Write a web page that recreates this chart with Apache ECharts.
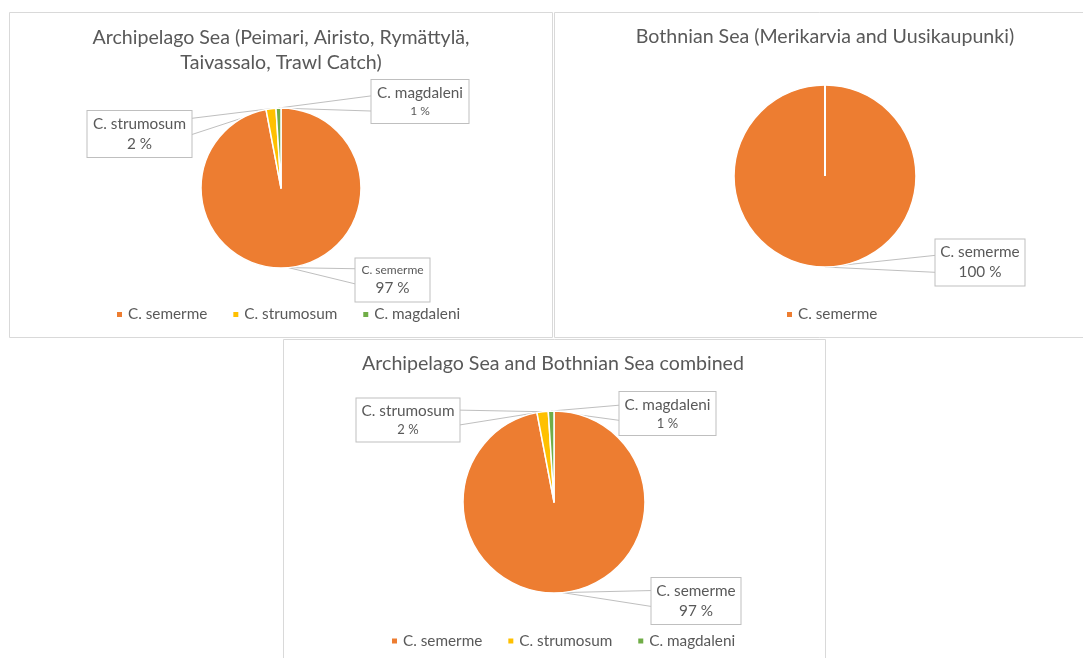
<!DOCTYPE html>
<html>
<head>
<meta charset="utf-8">
<script src="https://cdn.jsdelivr.net/npm/echarts@6/dist/echarts.min.js"></script>
<style>
  html, body { margin: 0; padding: 0; background: #ffffff; }
  #chart { width: 1083px; height: 658px; }
</style>
</head>
<body>
<div id="chart"></div>
<script>
// Species shares (%) of the whitefish catch, per sea area
const speciesAll = ['C. semerme', 'C. strumosum', 'C. magdaleni'];
const archipelagoShare = [97, 2, 1];
const bothnianSpecies = ['C. semerme'];
const bothnianShare = [100];
const combinedShare = [97, 2, 1];

const titleTexts = [
  'Archipelago Sea (Peimari, Airisto, Rymättylä,\nTaivassalo, Trawl Catch)',
  'Bothnian Sea (Merikarvia and Uusikaupunki)',
  'Archipelago Sea and Bothnian Sea combined'
];

const COLORS = { 'C. semerme': '#ED7D31', 'C. strumosum': '#FFC000', 'C. magdaleni': '#70AD47' };
const TEXT = '#595959';
const FRAME = '#D9D9D9';
const CALLOUT = '#BFBFBF';
const FONT = 'Lato, "Open Sans", sans-serif';

// Panel geometry: frame, pie placement, title, legend and callout boxes
const panels = [
  {
    names: speciesAll, values: archipelagoShare,
    frame: [9.5, 12.5, 543, 325], center: [281, 188], radius: 80,
    titleX: 281, titleY: 25.5, legend: [115, 307],
    boxes: [
      { c: [392.5, 280], w: 75, h: 42, n: 12, v: 15.3 },
      { c: [139.5, 134], w: 105, h: 45, n: 15.3, v: 15.3 },
      { c: [420, 101.5], w: 98, h: 42, n: 15.3, v: 12 }
    ]
  },
  {
    names: bothnianSpecies, values: bothnianShare,
    frame: [554.5, 12.5, 540, 325], center: [825, 176], radius: 91,
    titleX: 825, titleY: 24.5, legend: [785, 307],
    boxes: [
      { c: [980, 262.5], w: 90, h: 47, n: 15.3, v: 15.3 }
    ]
  },
  {
    names: speciesAll, values: combinedShare,
    frame: [283.5, 339.5, 542, 330], center: [554, 502], radius: 91,
    titleX: 553, titleY: 351.5, legend: [390, 633.5],
    boxes: [
      { c: [696, 601], w: 90, h: 44, n: 15.3, v: 15.3 },
      { c: [408, 420], w: 104, h: 41, n: 15.3, v: 13 },
      { c: [667.5, 413.5], w: 97, h: 42, n: 15.3, v: 13 }
    ]
  }
];

function clamp(v, lo, hi) { return Math.max(lo, Math.min(hi, v)); }

function richLine(size) {
  return { fontSize: size, lineHeight: size > 14 ? 20 : 17, color: TEXT, fontFamily: FONT, align: 'center' };
}

function buildSeries(p) {
  const data = p.names.map((name, i) => {
    const b = p.boxes[i];
    return {
      name: name,
      value: p.values[i],
      itemStyle: { color: COLORS[name] },
      label: {
        width: b.w - 7,
        overflow: 'none',
        rich: { n: richLine(b.n), v: richLine(b.v) }
      }
    };
  });
  return {
    type: 'pie',
    center: p.center,
    radius: p.radius,
    startAngle: 90,
    clockwise: true,
    avoidLabelOverlap: false,
    silent: true,
    itemStyle: { borderColor: '#ffffff', borderWidth: 1.5 },
    label: {
      show: true,
      position: 'outside',
      overflow: 'none',
      formatter: (q) => '{n|' + q.name + '}\n{v|' + q.value + ' %}',
      backgroundColor: '#ffffff',
      borderColor: CALLOUT,
      borderWidth: 1,
      padding: [3, 3],
      color: TEXT,
      fontFamily: FONT
    },
    labelLine: { show: true, length: 10, length2: 10, smooth: false, lineStyle: { color: CALLOUT, width: 1 } },
    // Callout boxes with a wedge pointer towards their slice
    labelLayout: (params) => {
      const b = p.boxes[params.dataIndex];
      const out = { x: b.c[0], y: b.c[1], align: 'center', verticalAlign: 'middle' };
      const pts = params.labelLinePoints;
      if (pts && pts.length) {
        const apex = pts[0];
        const left = b.c[0] - b.w / 2, right = b.c[0] + b.w / 2;
        const ex = apex[0] < left ? left : right;
        const mid = b.c[1] + clamp((apex[1] - b.c[1]) * 0.3, -b.h / 4, b.h / 4);
        const hw = b.h * 0.18;
        out.labelLinePoints = [[ex, mid - hw], [apex[0], apex[1]], [ex, mid + hw]];
      }
      return out;
    },
    data: data
  };
}

const chart = echarts.init(document.getElementById('chart'), null, { renderer: 'canvas' });

const graphics = panels.map((p) => ({
  type: 'rect', silent: true, z: -10,
  shape: { x: p.frame[0], y: p.frame[1], width: p.frame[2], height: p.frame[3] },
  style: { fill: '#ffffff', stroke: FRAME, lineWidth: 1 }
}));
// The single full slice still shows its white seam at twelve o'clock
const p2 = panels[1];
graphics.push({
  type: 'line', silent: true, z: 100,
  shape: { x1: p2.center[0], y1: p2.center[1], x2: p2.center[0], y2: p2.center[1] - p2.radius },
  style: { stroke: '#ffffff', lineWidth: 2 }
});

chart.setOption({
  animation: false,
  backgroundColor: '#ffffff',
  graphic: graphics,
  title: panels.map((p, i) => ({
    text: titleTexts[i],
    left: p.titleX,
    top: p.titleY,
    textAlign: 'center',
    padding: 0,
    textStyle: { color: TEXT, fontSize: 19.6, fontWeight: 'normal', fontFamily: FONT, lineHeight: 25 }
  })),
  legend: panels.map((p) => ({
    data: p.names,
    left: p.legend[0],
    top: p.legend[1],
    padding: 0,
    icon: 'rect',
    itemWidth: 7,
    itemHeight: 7,
    itemGap: 24,
    selectedMode: false,
    textStyle: { color: TEXT, fontSize: 15.3, fontFamily: FONT }
  })),
  series: panels.map(buildSeries)
});
</script>
</body>
</html>
